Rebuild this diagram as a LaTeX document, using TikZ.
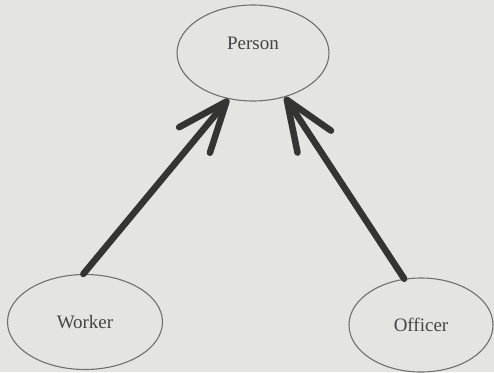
\documentclass[tikz,border=0pt]{standalone}
\usepackage{fontspec}
\setmainfont{Liberation Serif}
\usetikzlibrary{shapes.geometric,arrows.meta}
\definecolor{paper}{HTML}{E4E4E0}
\definecolor{rim}{HTML}{707070}
\definecolor{ink}{HTML}{444444}
\definecolor{shaft}{HTML}{343532}
\begin{document}
\begin{tikzpicture}[x=1pt,y=-1pt,
  class/.style={ellipse,draw=rim,line width=1.1pt,inner sep=0pt,
    text=ink,font=\fontsize{19}{19}\selectfont},
  inherit/.style={draw=shaft,line width=6.5pt,line cap=round,line join=round,
    -{Straight Barb[length=50pt,width=40pt,line cap=round,line join=round]}}]
  % page
  \fill[paper] (0,0) rectangle (494,372);
  \useasboundingbox (0,0) rectangle (494,372);
  % classes
  \node[class,minimum width=152pt,minimum height=96pt,
        label={[text=ink,font=\fontsize{19}{19}\selectfont,yshift=10pt]center:Person}]
        (person) at (253,53) {};
  \node[class,minimum width=155pt,minimum height=95pt] (worker) at (85,322) {Worker};
  \node[class,minimum width=144pt,minimum height=94pt] (officer) at (421,325) {Officer};
  % generalisation arrows
  \draw[inherit] (worker.92) -- (person.242);
  \draw[inherit] (officer.110) -- (person.306);
\end{tikzpicture}
\end{document}
